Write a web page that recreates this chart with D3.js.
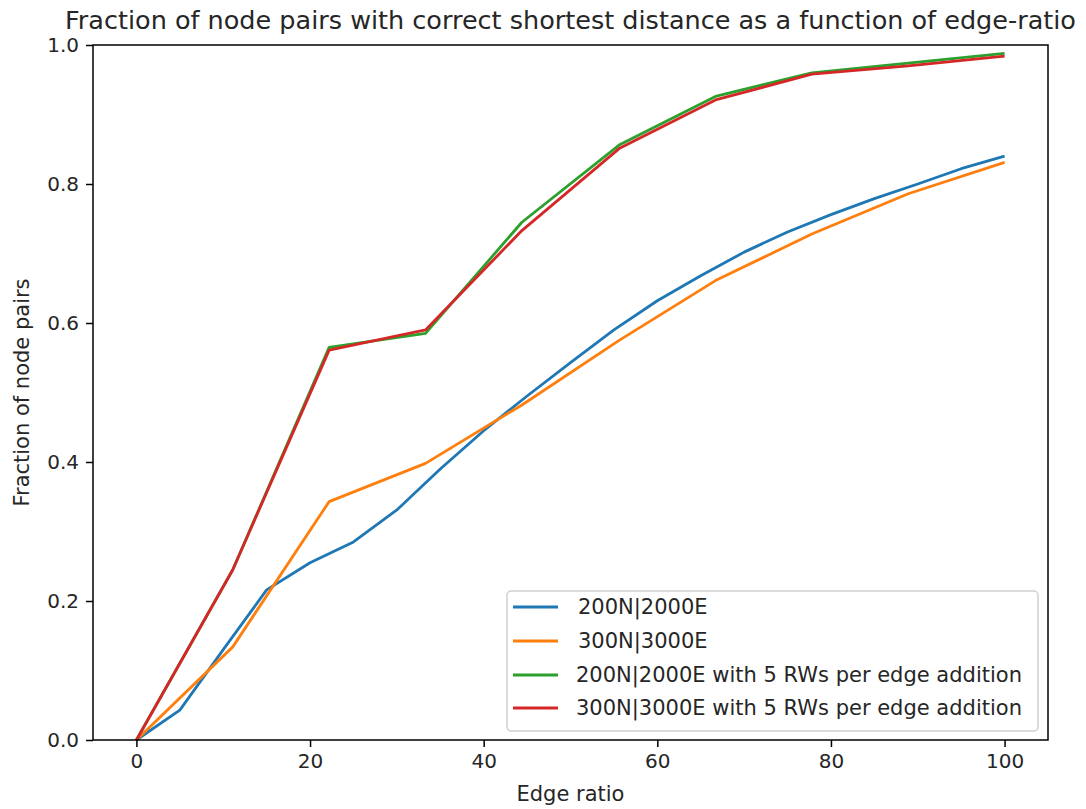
<!DOCTYPE html>
<html><head><meta charset="utf-8">
<script src="https://cdn.jsdelivr.net/npm/d3@7"></script>
<style>body{margin:0;background:#fff;} svg{display:block;font-family:"DejaVu Sans",sans-serif;}</style>
</head><body>
<script>
const title = "Fraction of node pairs with correct shortest distance as a function of edge-ratio";
const xLabel = "Edge ratio";
const yLabel = "Fraction of node pairs";
const xTicks = [0, 20, 40, 60, 80, 100];
const yTicks = [0.0, 0.2, 0.4, 0.6, 0.8, 1.0];

const seriesNames = ["200N|2000E", "300N|3000E", "200N|2000E with 5 RWs per edge addition", "300N|3000E with 5 RWs per edge addition"];
const seriesColors = ["#1f77b4", "#ff7f0e", "#2ca02c", "#d62728"];

const xBlue = [0,5,10,15,20,25,30,35,40,45,50,55,60,65,70,75,80,85,90,95,100];
const yBlue = [0,0.043,0.13,0.216,0.255,0.285,0.331,0.39,0.445,0.495,0.543,0.59,0.632,0.668,0.702,0.731,0.756,0.779,0.80,0.822,0.840];

const xTen = [0,11.1,22.2,33.3,44.4,55.6,66.7,77.8,88.9,100];
const yOrange = [0,0.134,0.343,0.398,0.482,0.575,0.661,0.728,0.786,0.831];
const yGreen = [0,0.245,0.565,0.585,0.745,0.856,0.926,0.960,0.974,0.988];
const yRed = [0,0.245,0.561,0.590,0.733,0.851,0.921,0.958,0.970,0.984];

const W = 1086, H = 809;
const m = {left: 93, right: 1048, top: 45, bottom: 740};
const svg = d3.select("body").append("svg").attr("width", W).attr("height", H);

const x = d3.scaleLinear().domain([-5, 105]).range([m.left, m.right]);
const y = d3.scaleLinear().domain([0, 1]).range([m.bottom, m.top]);

const data = [
  xBlue.map((v,i)=>[v,yBlue[i]]),
  xTen.map((v,i)=>[v,yOrange[i]]),
  xTen.map((v,i)=>[v,yGreen[i]]),
  xTen.map((v,i)=>[v,yRed[i]])
];

const line = d3.line().x(d=>x(d[0])).y(d=>y(d[1]));
svg.append("g").selectAll("path").data(data).join("path")
  .attr("d", line).attr("fill","none")
  .attr("stroke",(d,i)=>seriesColors[i]).attr("stroke-width",2.8)
  .attr("stroke-linejoin","round").attr("stroke-linecap","butt");

// axes
const xAxis = d3.axisBottom(x).tickValues(xTicks).tickFormat(d3.format("d")).tickSize(7).tickPadding(7);
const yAxis = d3.axisLeft(y).tickValues(yTicks).tickFormat(d3.format(".1f")).tickSize(7).tickPadding(7);
const gx = svg.append("g").attr("transform",`translate(0,${m.bottom})`).call(xAxis);
const gy = svg.append("g").attr("transform",`translate(${m.left},0)`).call(yAxis);
[gx,gy].forEach(g=>{
  g.select(".domain").remove();
  g.selectAll(".tick line").attr("stroke","#000").attr("stroke-width",1.5);
  g.selectAll(".tick text").attr("font-size",20).attr("fill","#262626").attr("font-family","DejaVu Sans");
});
// frame
svg.append("rect").attr("x",m.left).attr("y",m.top).attr("width",m.right-m.left).attr("height",m.bottom-m.top)
  .attr("fill","none").attr("stroke","#000").attr("stroke-width",1.5);

svg.append("text").attr("x",(m.left+m.right)/2).attr("y",29).attr("text-anchor","middle")
  .attr("font-size",25.5).attr("fill","#262626").text(title);
svg.append("text").attr("x",(m.left+m.right)/2).attr("y",801).attr("text-anchor","middle")
  .attr("font-size",21).attr("fill","#262626").text(xLabel);
svg.append("text").attr("transform",`translate(29,${(m.top+m.bottom)/2}) rotate(-90)`).attr("text-anchor","middle")
  .attr("font-size",21).attr("fill","#262626").text(yLabel);

// legend
const lg = svg.append("g");
lg.append("rect").attr("x",507).attr("y",591).attr("width",531).attr("height",140).attr("rx",4)
  .attr("fill","#fff").attr("fill-opacity",0.8).attr("stroke","#d0d0d0").attr("stroke-width",1.5);
const rowY = [607, 641, 675, 708];
seriesNames.forEach((n,i)=>{
  lg.append("line").attr("x1",513).attr("x2",558).attr("y1",rowY[i]).attr("y2",rowY[i])
    .attr("stroke",seriesColors[i]).attr("stroke-width",2.8);
  lg.append("text").attr("x",i<2?578:576).attr("y",rowY[i]+7).attr("font-size",21).attr("fill","#262626").text(n);
});
</script>
</body></html>
